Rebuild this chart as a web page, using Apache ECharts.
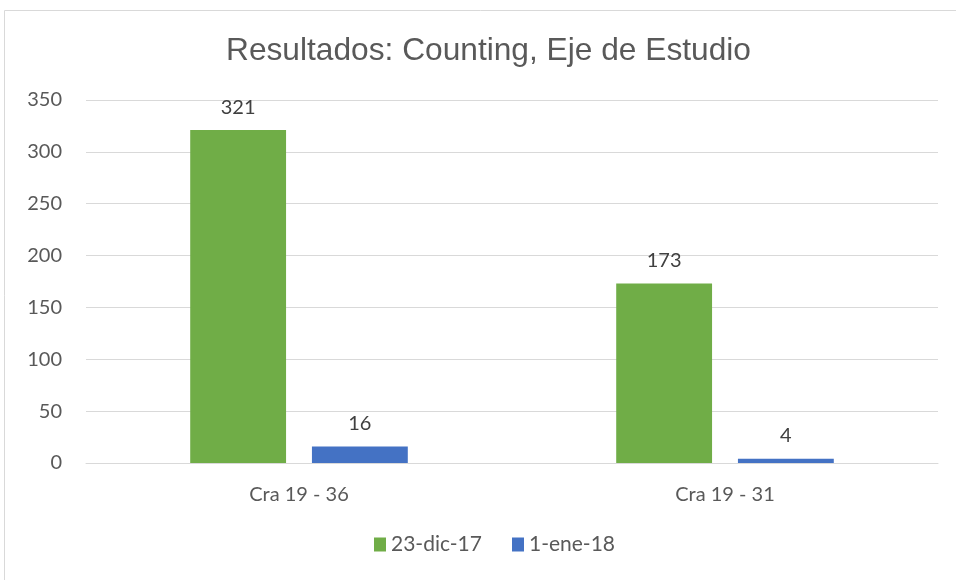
<!DOCTYPE html>
<html><head><meta charset="utf-8">
<script src="https://cdn.jsdelivr.net/npm/echarts@6/dist/echarts.min.js"></script>
<style>html,body{margin:0;padding:0;background:#fff}#c{width:956px;height:580px}</style>
</head><body><div id="c"></div>
<script>
const categories = ['Cra 19 - 36', 'Cra 19 - 31'];
const seriesNames = ['23-dic-17', '1-ene-18'];
const valuesDic = [321, 173];
const valuesEne = [16, 4];
const colors = ['#70AD47', '#4472C4'];
const font = 'Lato, "Open Sans", sans-serif';
const chart = echarts.init(document.getElementById('c'));
chart.setOption({
  animation: false,
  title: {
    text: 'Resultados: Counting, Eje de Estudio',
    left: 221, top: 30,
    textStyle: { fontFamily: '"Liberation Sans", Arial, sans-serif', fontSize: 31.7, fontWeight: 'normal', color: '#595959' }
  },
  graphic: [{
    type: 'rect', shape: { x: 4.5, y: 10.5, width: 960, height: 600 },
    style: { fill: 'none', stroke: '#d9d9d9', lineWidth: 1 }, silent: true, z: -1
  }],
  legend: {
    data: seriesNames, bottom: 20, left: 369,
    itemWidth: 12, itemHeight: 14, itemGap: 30, icon: 'rect',
    textStyle: { fontFamily: font, fontSize: 21, color: '#595959' }
  },
  grid: { left: 86, right: 18, top: 100, bottom: 117 },
  xAxis: {
    type: 'category', data: categories,
    axisLine: { lineStyle: { color: '#d9d9d9', width: 1 } },
    axisTick: { show: false },
    axisLabel: { fontFamily: font, fontSize: 20, color: '#595959', margin: 22 }
  },
  yAxis: {
    type: 'value', min: 0, max: 350, interval: 50,
    axisLine: { show: false }, axisTick: { show: false },
    splitLine: { lineStyle: { color: '#d9d9d9', width: 1 } },
    axisLabel: { fontFamily: font, fontSize: 20, color: '#595959', margin: 24 }
  },
  series: [
    { name: seriesNames[0], type: 'bar', data: valuesDic, barWidth: '22.5%', barGap: '27%',
      itemStyle: { color: colors[0] },
      label: { show: true, position: 'top', distance: 13, fontFamily: font, fontSize: 20, color: '#404040' } },
    { name: seriesNames[1], type: 'bar', data: valuesEne, barWidth: '22.5%', barGap: '27%',
      itemStyle: { color: colors[1] },
      label: { show: true, position: 'top', distance: 13, fontFamily: font, fontSize: 20, color: '#404040' } }
  ]
});
</script></body></html>
